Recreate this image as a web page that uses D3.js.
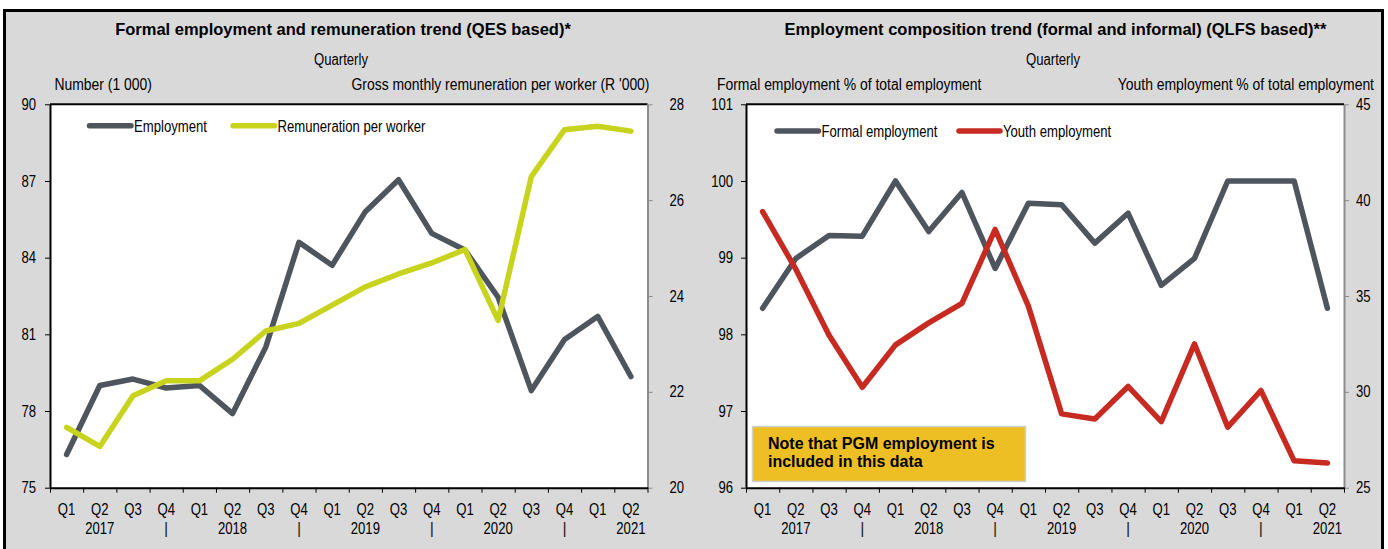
<!DOCTYPE html>
<html><head><meta charset="utf-8">
<script src="https://cdn.jsdelivr.net/npm/d3@7/dist/d3.min.js"></script>
<style>body{margin:0;background:#fff}svg{display:block}</style>
</head><body><svg id="c" width="1388" height="549"></svg>
<script>
// ---- data ----
const quarterLabels = ["Q1","Q2","Q3","Q4","Q1","Q2","Q3","Q4","Q1","Q2","Q3","Q4","Q1","Q2","Q3","Q4","Q1","Q2"];
const yearLabels = ["","2017","","|","","2018","","|","","2019","","|","","2020","","|","","2021"];
const employment = [76.3,79.0,79.25,78.9,79.0,77.9,80.5,84.6,83.7,85.8,87.05,84.95,84.3,82.45,78.8,80.8,81.7,79.35];
const remuneration = [21.26,20.86,21.92,22.23,22.23,22.68,23.27,23.43,23.81,24.19,24.46,24.69,24.97,23.49,26.49,27.47,27.54,27.44];
const formalShare = [98.34,98.99,99.29,99.28,100.0,99.34,99.85,98.86,99.71,99.69,99.19,99.58,98.64,98.99,100.0,100.0,100.0,98.34];
const youthShare = [39.4,36.4,32.95,30.24,32.45,33.6,34.62,38.47,34.47,28.85,28.58,30.28,28.45,32.5,28.16,30.07,26.4,26.29];
const leftTicksA = [75,78,81,84,87,90];
const rightTicksA = [20,22,24,26,28];
const leftTicksB = [96,97,98,99,100,101];
const rightTicksB = [25,30,35,40,45];

const FONT = "'Liberation Sans',Arial,sans-serif";
const C_GRAY = "#4E555D", C_YEL = "#C8D31E", C_RED = "#C62A21";

const svg = d3.select("#c");
svg.append("rect").attr("x",4.5).attr("y",10.5).attr("width",1378).attr("height",545)
  .attr("fill","#D9D9D9").attr("stroke","#000").attr("stroke-width",3);

function chart(o){
  const g = svg.append("g");
  const top = 104.3, bot = 487.7;
  const n = quarterLabels.length;
  const xb = d3.scaleBand().domain(d3.range(n)).range([o.xl,o.xr]).padding(0);
  const xe = d3.scaleLinear().domain([0,n]).range([o.xl,o.xr]);
  const cx = i => xb(i)+xb.bandwidth()/2;
  const yL = d3.scaleLinear().domain(o.lDom).range([bot,top]);
  const yR = d3.scaleLinear().domain(o.rDom).range([bot,top]);

  g.append("rect").attr("x",o.xl).attr("y",top).attr("width",o.xr-o.xl).attr("height",bot-top).attr("fill","#fff");
  g.append("line").attr("x1",o.xl).attr("x2",o.xr).attr("y1",top).attr("y2",top).attr("stroke","#000").attr("stroke-width",2);

  // titles
  g.append("text").attr("x",o.titleX).attr("y",35).attr("text-anchor","middle")
    .style("font-family",FONT).style("font-weight","bold").style("font-size",o.titleSize+"px").text(o.title);
  g.append("text").attr("class","nar").attr("x",o.subX).attr("y",65).attr("text-anchor","middle")
    .style("font-family",FONT).style("font-size","16px").text("Quarterly");
  g.append("text").attr("class","nar wide").attr("x",o.lTitleX).attr("y",90)
    .style("font-family",FONT).style("font-size","16px").text(o.lTitle);
  g.append("text").attr("class","nar wide").attr("x",o.rTitleX).attr("y",90).attr("text-anchor","end")
    .style("font-family",FONT).style("font-size","16px").text(o.rTitle);

  // axes
  const ax = g.append("g").attr("transform",`translate(${o.xl},0)`)
    .call(d3.axisLeft(yL).tickValues(o.lTicks).tickFormat(d3.format("d")).tickSize(5).tickPadding(o.lPad).tickSizeOuter(0));
  ax.select(".domain").attr("stroke","#000").attr("stroke-width",2);
  const axr = g.append("g").attr("transform",`translate(${o.xr},0)`)
    .call(d3.axisRight(yR).tickValues(o.rTicks).tickFormat(d3.format("d")).tickSize(5).tickPadding(o.rPad).tickSizeOuter(0));
  axr.select(".domain").attr("stroke","#8C8C8C").attr("stroke-width",2);
  axr.selectAll(".tick line").attr("stroke","#8C8C8C");
  const axb = g.append("g").attr("transform",`translate(0,${bot})`)
    .call(d3.axisBottom(xe).tickValues(d3.range(n+1)).tickSize(5).tickFormat("").tickSizeOuter(0));
  axb.select(".domain").attr("stroke","#000").attr("stroke-width",2);
  const axq = g.append("g").attr("transform",`translate(0,${bot})`)
    .call(d3.axisBottom(xb).tickSize(0).tickPadding(15.5).tickFormat(i=>quarterLabels[i]));
  axq.select(".domain").remove();
  const axy = g.append("g").attr("transform",`translate(0,${bot})`)
    .call(d3.axisBottom(xb).tickSize(0).tickPadding(34.5).tickFormat(i=>yearLabels[i]));
  axy.select(".domain").remove();
  g.selectAll(".tick text").attr("class",function(){ return d3.select(this).text()==="|" ? "bar" : "nar"; })
    .style("font-family",FONT).style("font-size","16px").attr("fill","#000");
  g.selectAll("text.bar").style("opacity",0.99).attr("fill","#222");

  // extra box
  if (o.note){
    g.append("rect").attr("x",752.5).attr("y",426.5).attr("width",273).attr("height",55)
      .attr("fill","#EEBF24").attr("stroke","#CFCFCF").attr("stroke-width",1.5);
    g.append("text").attr("x",768).attr("y",449).style("font-family",FONT).style("font-weight","bold")
      .style("font-size","16px").text(o.note[0]);
    g.append("text").attr("x",768).attr("y",467).style("font-family",FONT).style("font-weight","bold")
      .style("font-size","16px").text(o.note[1]);
  }

  // series
  o.series.forEach(s=>{
    const y = s.axis==="L"?yL:yR;
    g.append("path").datum(s.values)
      .attr("d",d3.line().x((d,i)=>cx(i)).y(d=>y(d)))
      .attr("fill","none").attr("stroke",s.color).attr("stroke-width",5.5)
      .attr("stroke-linejoin","round").attr("stroke-linecap","round");
  });

  // legend
  o.series.forEach(s=>{
    g.append("line").attr("x1",s.lx1).attr("x2",s.lx2).attr("y1",o.legY).attr("y2",o.legY)
      .attr("stroke",s.color).attr("stroke-width",5.5).attr("stroke-linecap","round");
    g.append("text").attr("class","nar").attr("x",s.lx2+3).attr("y",o.legY+6)
      .style("font-family",FONT).style("font-size","16px").text(s.name);
  });
}

chart({xl:50,xr:647.5,lDom:[75,90],rDom:[20,28],lTicks:leftTicksA,rTicks:rightTicksA,lPad:9,rPad:17,
  title:"Formal employment and remuneration trend (QES based)*",titleX:343,titleSize:16.5,subX:341,
  lTitle:"Number (1 000)",lTitleX:54.5,rTitle:"Gross monthly remuneration per worker (R '000)",rTitleX:649.5,
  legY:125.7,
  series:[{name:"Employment",values:employment,axis:"L",color:C_GRAY,lx1:89.5,lx2:131},
          {name:"Remuneration per worker",values:remuneration,axis:"R",color:C_YEL,lx1:233,lx2:274.5}]});

chart({xl:746,xr:1344,lDom:[96,101],rDom:[25,45],lTicks:leftTicksB,rTicks:rightTicksB,lPad:8,rPad:7,
  title:"Employment composition trend (formal and informal) (QLFS based)**",titleX:1055.5,titleSize:16.5,subX:1053,
  lTitle:"Formal employment % of total employment",lTitleX:717,rTitle:"Youth employment % of total employment",rTitleX:1374,
  legY:131,
  note:["Note that PGM employment is","included in this data"],
  series:[{name:"Formal employment",values:formalShare,axis:"L",color:C_GRAY,lx1:777,lx2:818.5},
          {name:"Youth employment",values:youthShare,axis:"R",color:C_RED,lx1:959,lx2:1000}]});

// emulate a narrow (condensed) face: horizontal squeeze about each text's anchor point
svg.selectAll("text.nar").each(function(){
  const f = this.classList.contains("wide") ? 0.87 : 0.82;
  const ax = +(this.getAttribute("x") || 0);
  this.setAttribute("transform", `matrix(${f},0,0,1,${ax*(1-f)},0)`);
});
</script></body></html>
